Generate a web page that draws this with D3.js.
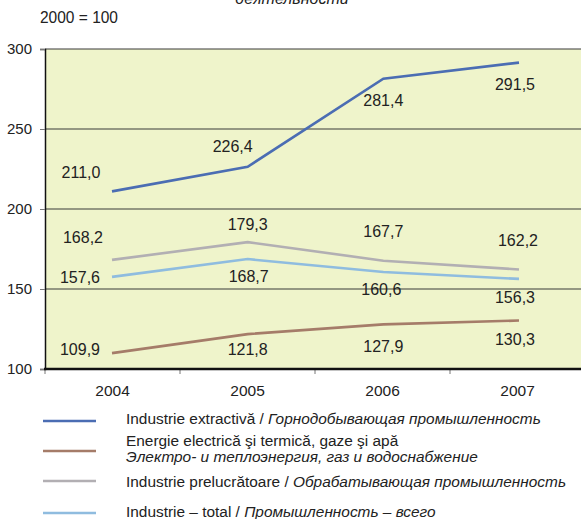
<!DOCTYPE html>
<html>
<head>
<meta charset="utf-8">
<script src="https://cdn.jsdelivr.net/npm/d3@7"></script>
<style>
  body { margin: 0; background: #fff; }
  svg { font-family: "Liberation Sans", Arial, sans-serif; }
</style>
</head>
<body>
<svg id="chart"></svg>
<script>
var years = ["2004", "2005", "2006", "2007"];
var yTicks = [100, 150, 200, 250, 300];

var extractiva = [211.0, 226.4, 281.4, 291.5];
var energie = [109.9, 121.8, 127.9, 130.3];
var prelucratoare = [168.2, 179.3, 167.7, 162.2];
var total = [157.6, 168.7, 160.6, 156.3];

// label offsets from the point (px), as placed in the original
var extractivaOff = [[-31, -13], [-15, -15], [0, 27], [-4, 27]];
var energieOff = [[-32, 2], [0, 21], [0, 28], [-4, 24]];
var prelucratoareOff = [[-29, -17], [0, -12], [0, -24], [-1, -23]];
var totalOff = [[-32, 6], [1, 23], [-2, 23], [-4, 24]];

var width = 581, height = 519;

var svg = d3.select("#chart").attr("width", width).attr("height", height);

var xBand = d3.scaleBand().domain(years).range([45, 585]);
var xPoint = d3.scalePoint().domain(years).range([112, 519]);
var yScale = d3.scaleLinear().domain([100, 300]).range([369, 49]);

// truncated title above (only its lower part shows in the original)
svg.append("text")
    .attr("x", 292).attr("y", 4)
    .attr("text-anchor", "middle")
    .style("font-size", "16px")
    .style("font-style", "italic")
    .style("fill", "#222")
    .text("деятельности");

svg.append("text")
    .attr("x", 40).attr("y", 23)
    .style("font-size", "16px")
    .style("fill", "#222")
    .attr("textLength", 78)
    .attr("lengthAdjust", "spacingAndGlyphs")
    .text("2000 = 100");

// plot background
svg.append("rect")
    .attr("x", 45).attr("y", yScale(300))
    .attr("width", width - 45).attr("height", yScale(100) - yScale(300))
    .attr("fill", "#eff4cb");

// grid lines
svg.selectAll(".grid")
    .data(yTicks.slice(1))
    .enter().append("line")
    .attr("x1", 45).attr("x2", width)
    .attr("y1", function (d) { return yScale(d); })
    .attr("y2", function (d) { return yScale(d); })
    .attr("stroke", "#3a3a3a")
    .attr("stroke-width", 1.2);

// y axis
var yAxis = svg.append("g")
    .attr("transform", "translate(45,0)")
    .call(d3.axisLeft(yScale).tickValues(yTicks).tickSize(5).tickFormat(d3.format("d")));
yAxis.select(".domain").attr("stroke", "#111").attr("stroke-width", 1.5);
yAxis.selectAll(".tick line").attr("stroke", "#777");
yAxis.selectAll("text")
    .style("font-size", "15px")
    .style("fill", "#222")
    .attr("x", -13)
    .style("font-family", "Liberation Sans, Arial, sans-serif");

// x axis
var xAxis = svg.append("g")
    .attr("transform", "translate(0," + yScale(100) + ")")
    .call(d3.axisBottom(xBand).tickSize(0));
xAxis.select(".domain").remove();
xAxis.selectAll("text")
    .style("font-size", "15.5px")
    .style("fill", "#222")
    .attr("dy", 0).attr("y", 27)
    .style("font-family", "Liberation Sans, Arial, sans-serif");

var xTicks = years.map(function (d) { return xBand(d); }).concat([585]);
svg.selectAll(".xtick")
    .data(xTicks)
    .enter().append("line")
    .attr("x1", function (d) { return d; })
    .attr("x2", function (d) { return d; })
    .attr("y1", yScale(100)).attr("y2", yScale(100) + 5)
    .attr("stroke", "#777");

svg.append("line")
    .attr("x1", 44).attr("x2", width)
    .attr("y1", yScale(100)).attr("y2", yScale(100))
    .attr("stroke", "#111")
    .attr("stroke-width", 2.5);

var series = [
    {name: "extractiva", values: extractiva, off: extractivaOff, color: "#4b6db3"},
    {name: "energie", values: energie, off: energieOff, color: "#a57c69"},
    {name: "prelucratoare", values: prelucratoare, off: prelucratoareOff, color: "#b2afb3"},
    {name: "total", values: total, off: totalOff, color: "#8fbcdf"}
];

var line = d3.line()
    .x(function (d, i) { return xPoint(years[i]); })
    .y(function (d) { return yScale(d); });

// draw order: total, prelucratoare, energie, extractiva
[3, 2, 1, 0].forEach(function (k) {
    var s = series[k];
    svg.append("path")
        .datum(s.values)
        .attr("fill", "none")
        .attr("stroke", s.color)
        .attr("stroke-width", 2.6)
        .attr("d", line);
});

var fmt = function (v) { return d3.format(".1f")(v).replace(".", ","); };

series.forEach(function (s) {
    svg.selectAll(".lbl-" + s.name)
        .data(s.values)
        .enter().append("text")
        .attr("x", function (d, i) { return xPoint(years[i]) + s.off[i][0]; })
        .attr("y", function (d, i) { return yScale(d) + s.off[i][1]; })
        .attr("text-anchor", "middle")
        .style("font-size", "16px")
        .style("fill", "#222")
        .text(fmt);
});

// legend
var legend = [
    {color: "#4b6db3", y: 421, lines: [[["Industrie extractivă / ", false], ["Горнодобывающая промышленность", true]]], ty: [424]},
    {color: "#a57c69", y: 451, lines: [[["Energie electrică şi termică, gaze şi apă", false]], [["Электро- и теплоэнергия, газ и водоснабжение", true]]], ty: [446, 462]},
    {color: "#b2afb3", y: 481, lines: [[["Industrie prelucrătoare / ", false], ["Обрабатывающая промышленность", true]]], ty: [487]},
    {color: "#8fbcdf", y: 513, lines: [[["Industrie – total / ", false], ["Промышленность – всего", true]]], ty: [517]}
];

var lg = svg.append("g");
var texts = lg.append("g");
legend.forEach(function (item) {
    lg.append("line")
        .attr("x1", 43).attr("x2", 96)
        .attr("y1", item.y).attr("y2", item.y)
        .attr("stroke", item.color)
        .attr("stroke-width", 2.6);
    item.lines.forEach(function (parts, j) {
        var t = texts.append("text")
            .attr("x", 0).attr("y", item.ty[j])
            .style("font-size", "14.5px")
            .style("fill", "#222");
        parts.forEach(function (p) {
            t.append("tspan")
                .style("font-style", p[1] ? "italic" : "normal")
                .text(p[0]);
        });
    });
});
// original legend text is a narrow face; squeeze to match its width
var w0 = texts.select("text").node().getComputedTextLength();
var k = 415 / w0;
texts.attr("transform", "translate(126,0) scale(" + k + ",1)");
</script>
</body>
</html>
